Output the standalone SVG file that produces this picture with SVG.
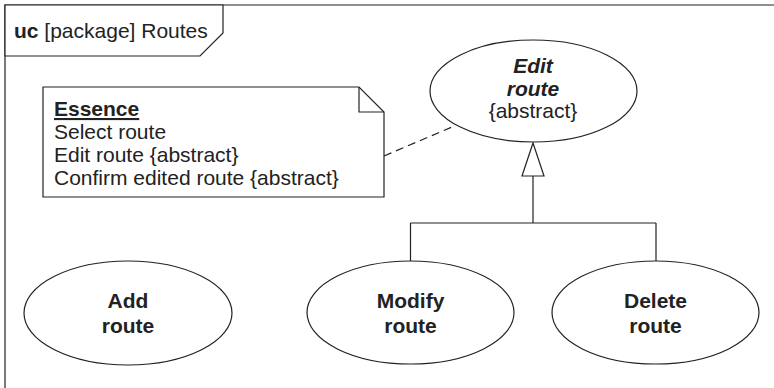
<svg xmlns="http://www.w3.org/2000/svg" width="774" height="388" viewBox="0 0 774 388">
<style>
  .ln{fill:none;stroke:#222;stroke-width:1.2}
  .shape{fill:#fff;stroke:#222;stroke-width:1.2}
  text{font-family:"Liberation Sans",Arial,sans-serif;fill:#222;font-size:21px}
  .b{font-weight:bold}
  .bi{font-weight:bold;font-style:italic}
  .c{text-anchor:middle}
</style>
<rect width="774" height="388" fill="#fff"/>
<g id="frame">
  <path class="ln" d="M5,400 V5 H800"/>
  <path class="shape" d="M5,5 H223 V33 L200,56 H5 Z"/>
  <text x="14" y="38"><tspan class="b">uc</tspan> [package] Routes</text>
</g>
<g id="connectors">
  <path class="ln" d="M384,156 L452,127" stroke-dasharray="8,5"/>
  <path class="ln" d="M533,176 V223 M410.5,223 H656 M410.5,223 V261 M656,223 V261"/>
  <path class="shape" d="M533,143 L544,176 L522,176 Z"/>
</g>
<g id="note">
  <path class="shape" d="M43,87 H359 L384,112 V197 H43 Z"/>
  <path class="ln" d="M359,87 V112 H384"/>
  <text x="54" y="116" class="b" text-decoration="underline">Essence</text>
  <text x="54" y="139">Select route</text>
  <text x="54" y="162">Edit route {abstract}</text>
  <text x="54" y="185">Confirm edited route {abstract}</text>
</g>
<g id="edit-route">
  <ellipse class="shape" cx="533.5" cy="91" rx="103.5" ry="51"/>
  <text x="533" y="73" class="bi c">Edit</text>
  <text x="533" y="96" class="bi c">route</text>
  <text x="533" y="118" class="c">{abstract}</text>
</g>
<g id="add-route">
  <ellipse class="shape" cx="128" cy="313" rx="104" ry="52"/>
  <text x="128" y="308" class="b c">Add</text>
  <text x="128" y="333" class="b c">route</text>
</g>
<g id="modify-route">
  <ellipse class="shape" cx="410.5" cy="312.5" rx="103.5" ry="51.5"/>
  <text x="410.5" y="308" class="b c">Modify</text>
  <text x="410.5" y="333" class="b c">route</text>
</g>
<g id="delete-route">
  <ellipse class="shape" cx="655.5" cy="312.5" rx="103.5" ry="51.5"/>
  <text x="655.5" y="308" class="b c">Delete</text>
  <text x="655.5" y="333" class="b c">route</text>
</g>
</svg>
